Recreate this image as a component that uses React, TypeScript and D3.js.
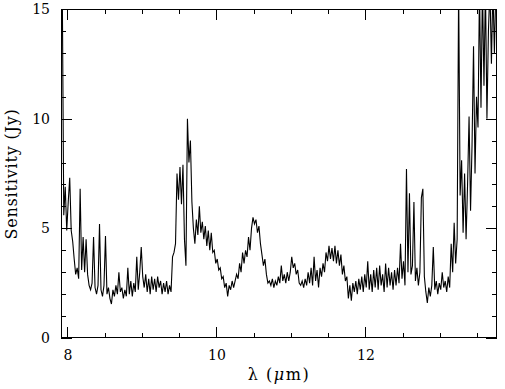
import { useEffect, useRef } from "react";
import { select, scaleLinear, line, axisBottom, axisTop, axisLeft, axisRight, range } from "d3";

// Spectrum sampled on a uniform wavelength grid (micron)
const lambdaStart = 7.93;
const lambdaStep = 0.02;

// Sensitivity (Jy), in wavelength order
const fluxShort = [
  16, 5.6, 6.9, 4.9, 6.2, 7.3, 4.9, 4.4, 3.6,
  2.9, 3.2, 2.7, 6.8, 3.1, 4.6, 3.0, 4.5, 2.9,
  2.4, 2.2, 2.5, 4.6, 2.3, 2.0, 2.4, 5.2, 2.2, 1.9, 2.4, 4.65,
  2.0, 2.3, 1.8, 1.55, 2.2, 1.9, 2.4, 2.0, 3.0, 2.1,
  2.3, 1.8, 2.2, 1.9, 3.2, 2.0, 2.6, 1.9, 2.5, 2.1,
  3.7, 2.2, 3.0, 4.15, 2.8, 2.3, 2.9, 2.1, 2.7, 2.0,
  2.8, 2.2, 2.7, 2.1, 2.8, 2.3, 2.6, 2.0, 2.5, 2.1,
  2.6, 2.0, 2.4, 2.1,
];
const fluxSilicate = [
  3.7, 3.9, 4.3, 7.5, 6.3, 7.8, 6.1, 7.9, 4.5, 3.3,
  10.0, 8.0, 9.0, 6.2, 5.0, 4.3, 5.4, 4.7, 6.0, 4.8,
  5.3, 4.5, 5.1, 4.2, 4.9, 4.0, 4.8, 3.9, 4.0, 3.4,
  3.6, 3.1, 3.2, 2.7, 2.8, 2.3, 2.5, 1.9, 2.4, 2.2,
  2.6, 2.3, 2.6, 2.9, 2.7, 3.4, 3.0, 3.9, 3.4, 4.0,
  3.7, 4.6, 4.0, 5.0, 5.5, 5.2, 5.4, 4.8, 5.1, 4.3,
  3.8, 3.3, 3.6, 2.9, 2.5, 2.6, 2.4, 2.7, 2.3, 2.6,
  2.4, 2.8, 2.5, 3.3, 2.6, 2.9,
];
const fluxMid = [
  2.5, 3.0, 2.6, 3.0, 3.7, 3.2, 3.4, 2.9, 3.1, 2.5,
  2.4, 2.6, 2.3, 2.7, 2.4, 3.0, 2.5, 3.2, 2.4, 3.7,
  2.6, 3.1, 2.3, 3.2, 2.8, 3.4, 3.0, 3.9, 3.5, 4.2,
  3.6, 4.1, 3.5, 4.2, 3.4, 4.0, 3.3, 3.8, 2.9, 3.3,
  2.6, 2.8, 1.8, 2.4, 1.7, 2.5, 2.1, 2.6, 2.0, 2.7,
  2.2, 2.8, 2.1, 2.9, 2.3, 3.5, 2.2, 2.9, 2.1, 3.1,
  2.3, 3.2, 2.2, 3.3, 2.4, 2.9, 2.1, 3.4, 2.3, 3.2,
  2.4, 3.0, 2.2, 3.1, 2.4, 3.2,
];
const fluxLong = [
  2.5, 4.3, 2.7, 3.5, 2.4, 7.7, 3.0, 6.6, 2.9, 3.3,
  6.2, 2.6, 3.2, 2.4, 3.0, 6.4, 6.8, 2.8, 2.1, 1.6,
  2.3, 1.9, 2.4, 4.15, 2.2, 2.6, 2.0, 2.5, 2.2, 3.0,
  2.3, 2.6, 2.1, 2.8, 2.3, 4.3, 3.0, 5.25, 3.4, 4.5,
  16, 6.5, 8.1, 4.8, 7.5, 4.5, 7.0, 10.1, 5.8, 8.8,
  13.3, 7.5, 11.0, 9.6, 16, 10.5, 16, 11.5, 16, 10.0,
  14.0, 16, 12.5, 16, 13.0, 16, 13.8,
];

const xMajor = [8, 10, 12];
const yMajor = [0, 5, 10, 15];

const W = 505;
const H = 389;
const margin = { top: 9, right: 8, bottom: 51, left: 61 };
const font = "DejaVu Serif, serif";

const App = () => {
  const svgRef = useRef<SVGSVGElement>(null);

  useEffect(() => {
    const svg = select(svgRef.current);
    svg.selectAll("*").remove();

    const flux = [...fluxShort, ...fluxSilicate, ...fluxMid, ...fluxLong];
    const data = flux.map((v, i) => ({ lam: lambdaStart + i * lambdaStep, v }));

    const x = scaleLinear().domain([7.913, 13.765]).range([margin.left, W - margin.right]);
    const y = scaleLinear().domain([0, 15]).range([H - margin.bottom, margin.top]);

    const xMinor = range(8, 13.76, 0.5).filter((d) => d % 2 !== 0);
    const yMinor = range(1, 15, 1).filter((d) => d % 5 !== 0);

    svg
      .append("clipPath")
      .attr("id", "plot-clip")
      .append("rect")
      .attr("x", margin.left)
      .attr("y", margin.top)
      .attr("width", W - margin.left - margin.right)
      .attr("height", H - margin.top - margin.bottom);

    // spectrum
    svg
      .append("path")
      .datum(data)
      .attr("clip-path", "url(#plot-clip)")
      .attr("fill", "none")
      .attr("stroke", "#000")
      .attr("stroke-width", 1.1)
      .attr(
        "d",
        line<{ lam: number; v: number }>()
          .x((d) => x(d.lam))
          .y((d) => y(d.v))
      );

    const addAxis = (axis: any, tx: number, ty: number, labels: boolean) => {
      const g = svg
        .append("g")
        .attr("transform", `translate(${tx},${ty})`)
        .style("font-family", font)
        .style("font-size", "14px")
        .call(axis);
      g.select(".domain").remove();
      g.selectAll("line").attr("stroke", "#000").attr("shape-rendering", "crispEdges");
      if (!labels) g.selectAll("text").remove();
      else g.selectAll("text").attr("fill", "#000");
    };

    const bottom = H - margin.bottom;
    const right = W - margin.right;

    addAxis(axisBottom(x).tickValues(xMajor).tickSize(-11).tickPadding(12).tickFormat((d: any) => `${d}`), 0, bottom, true);
    addAxis(axisBottom(x).tickValues(xMinor).tickSize(-5).tickFormat(() => ""), 0, bottom, false);
    addAxis(axisTop(x).tickValues(xMajor).tickSize(-11), 0, margin.top, false);
    addAxis(axisTop(x).tickValues(xMinor).tickSize(-5), 0, margin.top, false);

    addAxis(axisLeft(y).tickValues(yMajor).tickSize(-11).tickPadding(11).tickFormat((d: any) => `${d}`), margin.left, 0, true);
    addAxis(axisLeft(y).tickValues(yMinor).tickSize(-5).tickFormat(() => ""), margin.left, 0, false);
    addAxis(axisRight(y).tickValues(yMajor).tickSize(-11), right, 0, false);
    addAxis(axisRight(y).tickValues(yMinor).tickSize(-5), right, 0, false);

    // frame
    svg
      .append("rect")
      .attr("x", margin.left + 0.5)
      .attr("y", margin.top + 0.5)
      .attr("width", W - margin.left - margin.right - 1)
      .attr("height", H - margin.top - margin.bottom - 1)
      .attr("fill", "none")
      .attr("stroke", "#000")
      .attr("stroke-width", 1)
      .attr("shape-rendering", "crispEdges");

    // axis titles
    const xt = svg
      .append("text")
      .attr("x", (margin.left + right) / 2)
      .attr("y", 380)
      .attr("text-anchor", "middle")
      .style("font-family", font)
      .style("font-size", "16px")
      .style("letter-spacing", "1.5px");
    xt.append("tspan").text("λ (");
    xt.append("tspan").attr("font-style", "italic").text("μ");
    xt.append("tspan").text("m)");

    svg
      .append("text")
      .attr("transform", `translate(17,174) rotate(-90)`)
      .attr("text-anchor", "middle")
      .style("font-family", font)
      .style("font-size", "16px")
      .style("letter-spacing", "0.8px")
      .text("Sensitivity (Jy)");
  }, []);

  return (
    <div style={{ position: "absolute", left: 0, top: 0 }}>
      <svg ref={svgRef} width={W} height={H} style={{ display: "block", background: "#fff" }}></svg>
    </div>
  );
};

export default App;
